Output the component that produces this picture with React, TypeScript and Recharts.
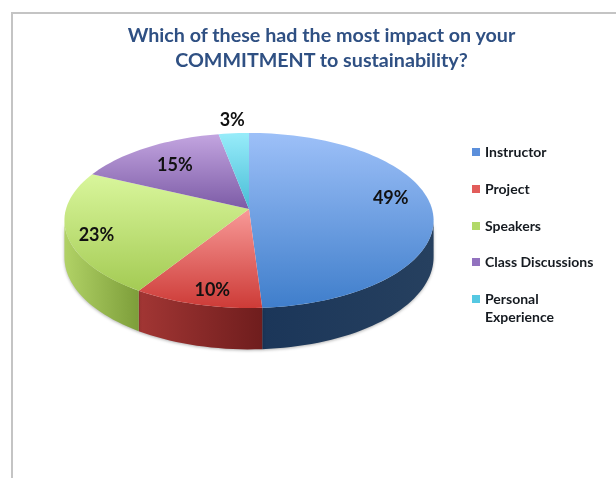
import { Legend, Pie, PieChart } from "recharts";

const categories = ["Instructor", "Project", "Speakers", "Class Discussions", "Personal Experience"];
const shares = [49, 10, 23, 15, 3];
const legendColors = ["#5b8fdb", "#e25c5a", "#b2d968", "#9272bf", "#55c8e2"];
const topGradients = [
    ["#9dc0f8", "#3f7ecb"],
    ["#f89a98", "#cd3b37"],
    ["#d9f69c", "#a4cb54"],
    ["#c3a5e0", "#7c5ba6"],
    ["#98ecfa", "#48bdd6"],
];
const wallGradients = [
    ["#1b3659", "#26405f"],
    ["#a23634", "#6f1d1d"],
    ["#b1d266", "#7d9e3a"],
];
const titleLines = ["Which of these had the most impact on your", "COMMITMENT to sustainability?"];
const labelNudges = [
    [5, -10],
    [1, 11],
    [-17, 6.5],
    [4, 2],
    [-5, -31.5],
];

const data = categories.map((name, i) => ({ name, value: shares[i], fill: legendColors[i] }));

const FONT = "Lato, 'Open Sans', sans-serif";

/** The pie sits on a tilted plane: these bend a flat circle into what the slide shows. */
const TILT = 0.47;
const PERSPECTIVE = -0.131;
const DEPTH = 36;
const FRONT_LIMIT = 97.5; // clock degrees where the side wall starts to be visible

function project(cx: number, cy: number, radius: number, clockDeg: number, r = 1) {
    const rad = (clockDeg * Math.PI) / 180;
    const x = r * Math.sin(rad);
    const y = -r * Math.cos(rad);
    const d = 1 + PERSPECTIVE * y;
    return { x: cx + (radius * x) / d, y: cy + (radius * TILT * y) / d, d };
}

function arcPoints(cx: number, cy: number, radius: number, from: number, to: number) {
    const steps = Math.max(2, Math.ceil((to - from) / 2));
    const pts = [];
    for (let i = 0; i <= steps; i++) {
        pts.push(project(cx, cy, radius, from + ((to - from) * i) / steps));
    }
    return pts;
}

function TiltedSlice(props: any) {
    const { cx, cy, outerRadius, startAngle, endAngle, name } = props;
    const idx = categories.indexOf(name);
    const from = 90 - startAngle;
    const to = 90 - endAngle;
    const top = arcPoints(cx, cy, outerRadius, from, to);
    const topPath = `M${cx},${cy} ` + top.map((p) => `L${p.x},${p.y}`).join(" ") + " Z";

    const wallFrom = Math.max(from, FRONT_LIMIT);
    const wallTo = Math.min(to, 360 - FRONT_LIMIT);
    let wallPath = null;
    if (wallTo > wallFrom) {
        const upper = arcPoints(cx, cy, outerRadius, wallFrom, wallTo);
        const lower = [...upper].reverse().map((p) => ({ x: p.x, y: p.y + DEPTH / p.d }));
        wallPath = "M" + [...upper, ...lower].map((p) => `${p.x},${p.y}`).join(" L") + " Z";
    }

    return (
        <g>
            {wallPath && (
                <path
                    d={wallPath}
                    fill={`url(#wall-${idx})`}
                    style={{ filter: "drop-shadow(0 1px 1.5px rgba(0,0,0,0.3))" }}
                />
            )}
            <path d={topPath} fill={`url(#top-${idx})`} />
        </g>
    );
}

function sliceLabel(props: any) {
    const { cx, cy, outerRadius, midAngle, name, value } = props;
    const idx = categories.indexOf(name);
    const p = project(cx, cy, outerRadius, 90 - midAngle, 0.75);
    return (
        <text
            x={p.x + labelNudges[idx][0]}
            y={p.y + labelNudges[idx][1]}
            textAnchor="middle"
            dominantBaseline="central"
            fontFamily={FONT}
            fontWeight={700}
            fontSize={18}
            fill="#111"
        >
            {value}%
        </text>
    );
}

function LegendList({ payload }: any) {
    return (
        <ul style={{ listStyle: "none", margin: 0, padding: 0, fontFamily: FONT, fontWeight: 700, fontSize: 14 }}>
            {(payload ?? []).map((item: any) => (
                <li key={item.value} style={{ display: "flex", height: 36.8, color: "#151a20", lineHeight: "18px" }}>
                    <span
                        style={{
                            width: 8,
                            height: 8,
                            marginTop: 5,
                            marginRight: 5,
                            flex: "none",
                            background: item.color,
                        }}
                    />
                    <span style={{ width: 120 }}>{item.value}</span>
                </li>
            ))}
        </ul>
    );
}

export default function App() {
    return (
        <div
            style={{
                position: "fixed",
                left: 0,
                top: 0,
                width: 616,
                height: 478,
                overflow: "hidden",
                background: "#fff",
                filter: "blur(0.5px)",
            }}
        >
            <div
                style={{
                    position: "absolute",
                    left: 11,
                    top: 12,
                    width: 640,
                    height: 500,
                    borderLeft: "2px solid #c4c4c4",
                    borderTop: "2px solid #c4c4c4",
                }}
            />
            <div
                style={{
                    position: "absolute",
                    left: 0,
                    top: 22,
                    width: 643,
                    textAlign: "center",
                    fontFamily: FONT,
                    fontWeight: 700,
                    fontSize: 19.7,
                    lineHeight: "25px",
                    color: "#2f5083",
                }}
            >
                {titleLines.map((line) => (
                    <div key={line}>{line}</div>
                ))}
            </div>
            <PieChart width={616} height={478} margin={{ top: 0, right: 0, bottom: 0, left: 0 }} style={{ position: "absolute", left: 0, top: 0 }}>
                <defs>
                    {topGradients.map(([a, b], i) => (
                        <linearGradient key={i} id={`top-${i}`} x1="0" y1="0" x2="0" y2="1">
                            <stop offset="0%" stopColor={a} />
                            <stop offset="100%" stopColor={b} />
                        </linearGradient>
                    ))}
                    {wallGradients.map(([a, b], i) => (
                        <linearGradient key={i} id={`wall-${i}`} x1="0" y1="0" x2="1" y2="0">
                            <stop offset="0%" stopColor={a} />
                            <stop offset="100%" stopColor={b} />
                        </linearGradient>
                    ))}
                </defs>
                <Pie
                    data={data}
                    dataKey="value"
                    nameKey="name"
                    cx={249}
                    cy={209}
                    innerRadius={0}
                    outerRadius={183}
                    startAngle={90}
                    endAngle={-270}
                    stroke="none"
                    shape={TiltedSlice}
                    label={sliceLabel}
                    labelLine={false}
                    isAnimationActive={false}
                />
                <Legend
                    layout="vertical"
                    itemSorter={null}
                    content={<LegendList />}
                    wrapperStyle={{ position: "absolute", left: 472, top: 143, width: 144, bottom: "auto", right: "auto" }}
                />
            </PieChart>
        </div>
    );
}
